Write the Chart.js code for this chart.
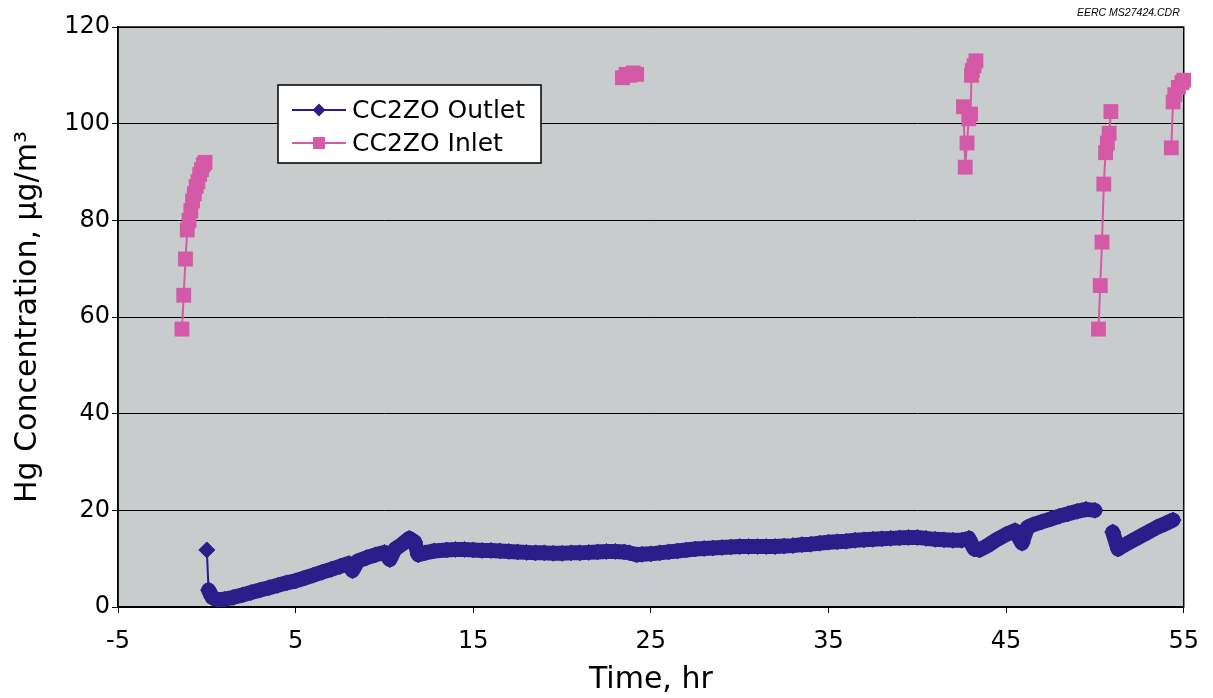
<!DOCTYPE html>
<html>
<head>
<meta charset="utf-8">
<script src="https://cdn.jsdelivr.net/npm/chart.js@4.4.0/dist/chart.umd.min.js"></script>
<style>
  html, body { margin: 0; padding: 0; background: #fff; }
  #wrap { width: 1213px; height: 698px; }
</style>
</head>
<body>
<div id="wrap"><canvas id="hgChart"></canvas></div>
<script>
// values (time in hr, Hg in ug/m3); null = break in the trace
const outletTime = [0, 0.1, 0.3, 0.6, 1.0, 1.5, 2.0, 2.5, 3.0, 3.5, 4.0, 4.5, 5.0, 5.5, 6.0, 6.5, 7.0, 7.5, 8.0, 8.2, 8.5, 9.0, 9.5, 10.0, 10.3, 10.6, 11.0, 11.4, 11.7, 11.9,
  12.3, 12.8, 13.5, 14.0, 14.5, 15.0, 15.5, 16.0, 16.5, 17.0, 17.5, 18.0, 18.5, 19.0, 19.5, 20.0, 20.5, 21.0, 21.5, 22.0, 22.5, 23.0, 23.5, 23.8,
  24.2, 24.5, 25.0, 25.5, 26.0, 26.5, 27.0, 27.5, 28.0, 28.5, 29.0, 29.5, 30.0, 30.5, 31.0, 31.5, 32.0, 32.5, 33.0, 33.5, 34.0, 34.5, 35.0, 35.5,
  36.0, 36.5, 37.0, 37.5, 38.0, 38.5, 39.0, 39.5, 40.0, 40.5, 41.0, 41.5, 42.0, 42.5, 42.9, 43.2, 43.5, 44.0, 44.5, 45.0, 45.5, 45.9, 46.2, 46.5,
  47.0, 47.5, 48.0, 48.5, 49.0, 49.5, 50.0, 50.5, 51.0, 51.3, 51.5, 52.0, 52.5, 53.0, 53.5, 54.0, 54.4];
const outletHg = [11.8, 3.5, 2.0, 1.5, 1.6, 2.0, 2.5, 3.0, 3.5, 4.0, 4.5, 5.0, 5.4, 6.0, 6.6, 7.2, 7.8, 8.4, 9.0, 7.5, 9.5, 10.2, 10.8, 11.3, 9.8, 12.0, 13.0, 14.2, 13.5, 10.8,
  11.2, 11.6, 11.8, 11.9, 11.9, 11.8, 11.7, 11.7, 11.6, 11.5, 11.4, 11.3, 11.2, 11.2, 11.1, 11.1, 11.2, 11.2, 11.3, 11.4, 11.5, 11.5, 11.4, 11.2,
  10.8, 10.9, 11.0, 11.2, 11.4, 11.6, 11.8, 12.0, 12.1, 12.2, 12.3, 12.4, 12.5, 12.5, 12.5, 12.5, 12.5, 12.6, 12.7, 12.9, 13.0, 13.2, 13.4, 13.5,
  13.6, 13.8, 13.9, 14.0, 14.1, 14.2, 14.3, 14.4, 14.4, 14.2, 14.0, 13.9, 13.8, 13.8, 14.2, 12.0, 11.8, 12.8, 14.0, 15.0, 15.8, 13.2, 16.5, 17.0,
  17.6, 18.2, 18.8, 19.3, 19.8, 20.2, 20.0, null, 15.5, 12.0, 12.5, 13.5, 14.5, 15.5, 16.5, 17.3, 18.0];

const inletTime = [-1.4, -1.3, -1.2, -1.1, -1.0, -0.9, -0.8, -0.7, -0.6, -0.5, -0.4, -0.3, -0.2, -0.1, 11,
  23.4, 23.6, 23.8, 24.0, 24.2, 33,
  42.6, 42.7, 42.8, 42.9, 43.0, 43.05, 43.1, 43.2, 43.3, 47,
  50.2, 50.3, 50.4, 50.5, 50.6, 50.7, 50.8, 50.9, 52,
  54.3, 54.4, 54.5, 54.7, 54.9, 55.0];
const inletHg = [57.5, 64.5, 72, 78, 80, 82, 84, 85.5, 87, 88, 89.5, 90.5, 91.5, 92, null,
  109.5, 110.2, 110, 110.5, 110.2, null,
  103.5, 91, 96, 101, 102, 110, 111, 112, 113, null,
  57.5, 66.5, 75.5, 87.5, 94, 96, 98, 102.5, null,
  95, 104.5, 106, 107.5, 108.5, 109];

const xTickValues = [-5, 5, 15, 25, 35, 45, 55];
const seriesNames = ['CC2ZO Outlet', 'CC2ZO Inlet'];
const seriesColors = ['#2b1d8a', '#d45aa8'];

const toPoints = (xs, ys) => xs.map((x, i) => ({x: x, y: ys[i]}));

const frame = {
  id: 'frame',
  beforeDraw(chart) {
    const {ctx, chartArea: a} = chart;
    ctx.save();
    ctx.fillStyle = '#ffffff';
    ctx.fillRect(0, 0, chart.width, chart.height);
    ctx.fillStyle = '#c9cccc';
    ctx.fillRect(a.left, a.top, a.right - a.left, a.bottom - a.top);
    ctx.restore();
  },
  beforeDatasetsDraw(chart) {
    const {ctx, chartArea: a} = chart;
    ctx.save();
    ctx.strokeStyle = '#000';
    ctx.lineWidth = 1.5;
    ctx.strokeRect(a.left, a.top, a.right - a.left, a.bottom - a.top);
    ctx.restore();
  },
  afterDraw(chart) {
    const {ctx, chartArea: a} = chart;
    ctx.save();
    // file tag above the plot
    ctx.font = 'italic 10.5px "Liberation Sans"';
    ctx.fillStyle = '#000';
    ctx.textAlign = 'right';
    ctx.textBaseline = 'middle';
    ctx.fillText('EERC MS27424.CDR', a.right - 4, 13);

    // legend box inside the plot
    const bx = 278, by = 85, bw = 263, bh = 78;
    ctx.fillStyle = '#fff';
    ctx.fillRect(bx, by, bw, bh);
    ctx.strokeStyle = '#000';
    ctx.lineWidth = 1.5;
    ctx.strokeRect(bx, by, bw, bh);
    const styles = ['rectRot', 'rect'];
    const radii = [5, 7];
    ctx.font = '25px "DejaVu Sans"';
    ctx.textAlign = 'left';
    seriesNames.forEach((name, i) => {
      const y = by + 25 + i * 33;
      ctx.strokeStyle = seriesColors[i];
      ctx.lineWidth = 2;
      ctx.beginPath();
      ctx.moveTo(bx + 14, y);
      ctx.lineTo(bx + 68, y);
      ctx.stroke();
      ctx.fillStyle = seriesColors[i];
      Chart.helpers.drawPoint(ctx, {pointStyle: styles[i], radius: radii[i], borderWidth: 1}, bx + 41, y);
      ctx.fill();
      ctx.fillStyle = '#000';
      ctx.fillText(name, bx + 74, y + 1);
    });
    ctx.restore();
  }
};

new Chart(document.getElementById('hgChart'), {
  type: 'scatter',
  data: {
    datasets: [
      {
        label: seriesNames[0],
        data: toPoints(outletTime, outletHg),
        showLine: true,
        spanGaps: false,
        borderColor: seriesColors[0],
        backgroundColor: seriesColors[0],
        borderWidth: 15,
        borderJoinStyle: 'round',
        borderCapStyle: 'round',
        // the first drop after the start-up spike is a thin line; the rest is a dense band of readings
        segment: { borderWidth: c => (c.p0DataIndex === 0 ? 2 : 15) },
        pointStyle: 'rectRot',
        pointRadius: 8,
        pointBorderWidth: 1,
        clip: false
      },
      {
        label: seriesNames[1],
        data: toPoints(inletTime, inletHg),
        showLine: true,
        spanGaps: false,
        borderColor: seriesColors[1],
        backgroundColor: seriesColors[1],
        borderWidth: 2,
        pointStyle: 'rect',
        pointRadius: 10.5,
        pointBorderWidth: 0,
        clip: false
      }
    ]
  },
  options: {
    responsive: true,
    maintainAspectRatio: false,
    animation: false,
    layout: { padding: { left: 0, top: 27, right: 28, bottom: 0 } },
    plugins: {
      legend: { display: false },
      tooltip: { enabled: false }
    },
    scales: {
      x: {
        type: 'linear',
        min: -5,
        max: 55,
        afterBuildTicks: scale => { scale.ticks = xTickValues.map(v => ({value: v})); },
        afterFit: scale => { scale.height = 91; },
        grid: { drawOnChartArea: false, drawTicks: true, tickLength: 6, color: '#000', lineWidth: 1 },
        border: { display: true, color: '#000', width: 1.5 },
        ticks: { color: '#000', padding: 14, maxRotation: 0, font: { family: 'DejaVu Sans', size: 24 } },
        title: { display: true, text: 'Time, hr', color: '#000', padding: { top: 0, bottom: 0 }, font: { family: 'DejaVu Sans', size: 30 } }
      },
      y: {
        min: 0,
        max: 120,
        afterFit: scale => { scale.width = 118; },
        grid: { drawOnChartArea: true, drawTicks: true, tickLength: 6, color: '#000', lineWidth: 1 },
        border: { display: true, color: '#000', width: 1.5 },
        ticks: { stepSize: 20, color: '#000', padding: 2, font: { family: 'DejaVu Sans', size: 24 } },
        title: { display: true, text: 'Hg Concentration, µg/m³', color: '#000', padding: { top: 10, bottom: 0 }, font: { family: 'DejaVu Sans', size: 30 } }
      }
    }
  },
  plugins: [frame]
});
</script>
</body>
</html>
